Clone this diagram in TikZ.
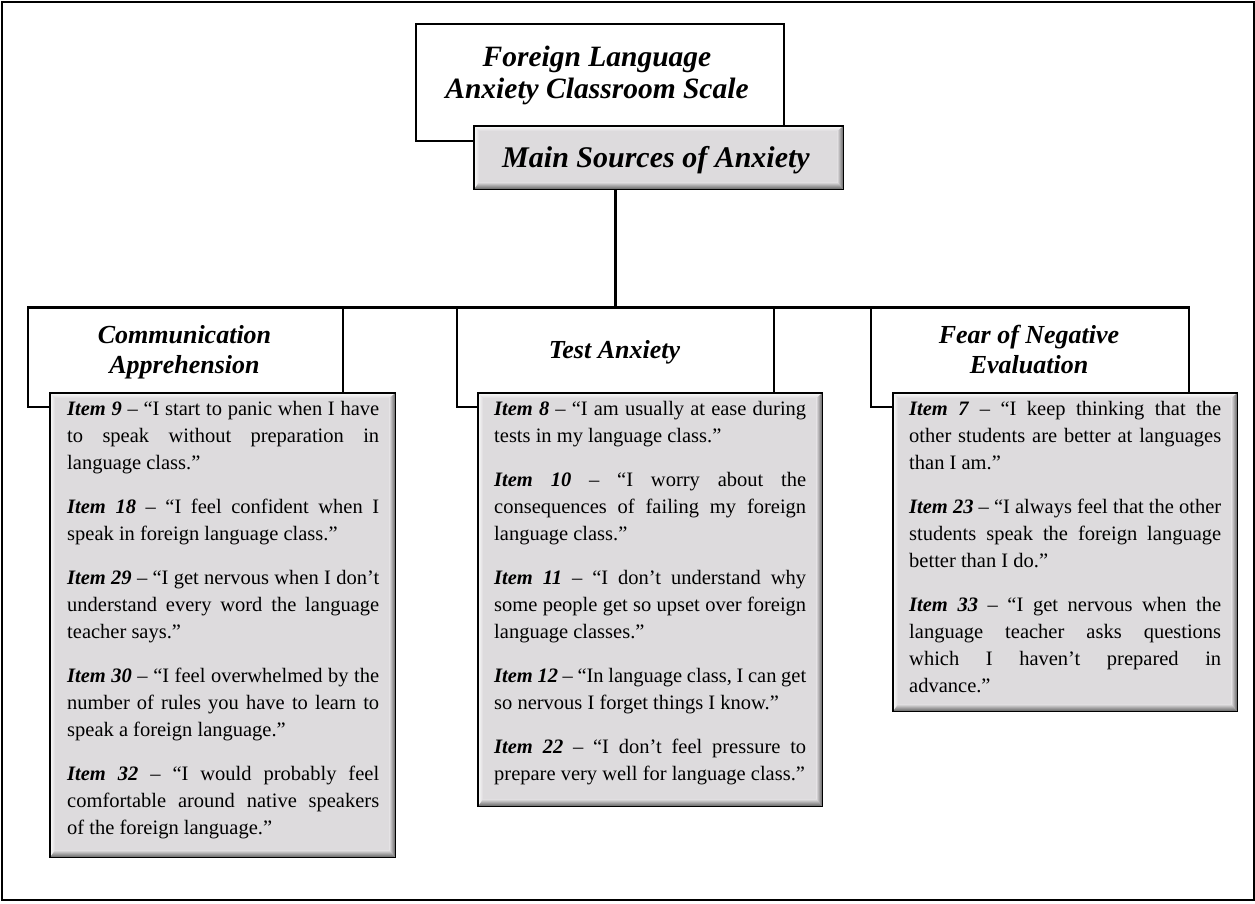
\documentclass[tikz,border=0pt]{standalone}
\usepackage{fontspec}
\setmainfont{Liberation Serif}
\usetikzlibrary{positioning}

\definecolor{boxgray}{RGB}{221,219,221}
\definecolor{bevdark}{RGB}{95,95,95}
\definecolor{bevlight}{RGB}{250,250,250}

\tikzset{
  frameline/.style={line width=2pt, draw=black},
  whitebox/.style={draw=black, line width=1.6pt, fill=white, inner sep=0pt, anchor=north west},
  graybox/.style={fill=boxgray, inner sep=0pt, anchor=north west},
  link/.style={line width=3pt, draw=black},
  titletext/.style={inner sep=0pt, align=center, font=\fontsize{29.5}{32}\selectfont\bfseries\itshape},
  headtext/.style={inner sep=0pt, align=center, font=\fontsize{26}{30}\selectfont\bfseries\itshape},
  itemtext/.style={inner sep=0pt, anchor=north west, text width=312pt, align=justify,
    font=\fontsize{20.5}{27}\selectfont},
}

% bevelled grey panel: light top/left edge, dark bottom/right edge, black rim
\newcommand\bevelframe[1]{%
  \shade[top color=bevlight, bottom color=boxgray]
    (#1.north west) -- (#1.north east) -- ([shift={(-6pt,-5pt)}]#1.north east)
    -- ([shift={(5pt,-5pt)}]#1.north west) -- cycle;
  \shade[left color=bevlight, right color=boxgray]
    (#1.north west) -- ([shift={(5pt,-5pt)}]#1.north west)
    -- ([shift={(5pt,7pt)}]#1.south west) -- (#1.south west) -- cycle;
  \shade[top color=boxgray, bottom color=bevdark]
    (#1.south west) -- ([shift={(5pt,7pt)}]#1.south west)
    -- ([shift={(-6pt,7pt)}]#1.south east) -- (#1.south east) -- cycle;
  \shade[left color=boxgray, right color=bevdark]
    (#1.south east) -- ([shift={(-6pt,7pt)}]#1.south east)
    -- ([shift={(-6pt,-5pt)}]#1.north east) -- (#1.north east) -- cycle;
  \draw[line width=1.8pt] (#1.north west) rectangle (#1.south east);
}

\newcommand\itm[1]{\textbf{\textit{Item #1}}}
\newcommand\itemsetup{\setlength\parindent{0pt}\setlength\parskip{17pt}%
  \tolerance=10000 \hbadness=10000 \hyphenpenalty=10000 \exhyphenpenalty=10000 }

\begin{document}
\begin{tikzpicture}[x=1pt, y=-1pt]
\useasboundingbox (0,0) rectangle (1255,903);
\draw[frameline] (2,2) rectangle (1253.5,900);

% scale title and main heading
\node[whitebox, minimum width=368pt, minimum height=117pt] (title) at (415,23) {};
\node[titletext, anchor=north] (titletxt) at (597,43.6) {\strut Foreign Language\\Anxiety Classroom Scale};
\node[graybox, minimum width=369pt, minimum height=63pt] (main) at (474,126) {};
\bevelframe{main}
\node[inner sep=0pt, anchor=base, font=\fontsize{30}{32}\selectfont\bfseries\itshape] (maintxt) at (656,167) {Main Sources of Anxiety};

% category headers
\node[whitebox, minimum width=315pt, minimum height=99pt] (h1) at (27,307) {};
\node[whitebox, minimum width=317pt, minimum height=99pt] (h2) at (456,307) {};
\node[whitebox, minimum width=318pt, minimum height=99pt] (h3) at (870,307) {};

% connectors
\draw[link] (h2.north) -- (h2.north |- main.south);
\draw[link] (h1.north west) -- (h3.north east);

\node[headtext, anchor=north] (h1txt) at (184.5,322) {\strut Communication\\Apprehension};
\node[headtext, anchor=base] (h2txt) at (614.5,358) {Test Anxiety};
\node[headtext, anchor=north] (h3txt) at (1029,322) {\strut Fear of Negative\\Evaluation};

% item panels
\node[graybox, minimum width=345pt, minimum height=464pt] (g1) at (50,393) {};
\bevelframe{g1}
\node[graybox, minimum width=344pt, minimum height=413pt] (g2) at (478,393) {};
\bevelframe{g2}
\node[graybox, minimum width=344pt, minimum height=318pt] (g3) at (893,393) {};
\bevelframe{g3}

\node[itemtext] (t1) at (67,396.1) {\itemsetup\strut
\itm{9} – “I start to panic when I have\linebreak to speak without preparation in\linebreak language class.”\par
\itm{18} – “I feel confident when I\linebreak speak in foreign language class.”\par
\itm{29} – “I get nervous when I don’t\linebreak understand every word the language\linebreak teacher says.”\par
\itm{30} – “I feel overwhelmed by the\linebreak number of rules you have to learn to\linebreak speak a foreign language.”\par
\itm{32} – “I would probably feel\linebreak comfortable around native speakers\linebreak of the foreign language.”};

\node[itemtext] (t2) at (494,396.1) {\itemsetup\strut
\itm{8} – “I am usually at ease during\linebreak tests in my language class.”\par
\itm{10} – “I worry about the\linebreak consequences of failing my foreign\linebreak language class.”\par
\itm{11} – “I don’t understand why\linebreak some people get so upset over foreign\linebreak language classes.”\par
\itm{12} – “In language class, I can get\linebreak so nervous I forget things I know.”\par
\itm{22} – “I don’t feel pressure to\linebreak prepare very well for language class.”};

\node[itemtext] (t3) at (909,396.1) {\itemsetup\strut
\itm{7} – “I keep thinking that the\linebreak other students are better at languages\linebreak than I am.”\par
\itm{23} – “I always feel that the other\linebreak students speak the foreign language\linebreak better than I do.”\par
\itm{33} – “I get nervous when the\linebreak language teacher asks questions\linebreak which I haven’t prepared in\linebreak advance.”};
\end{tikzpicture}
\end{document}
